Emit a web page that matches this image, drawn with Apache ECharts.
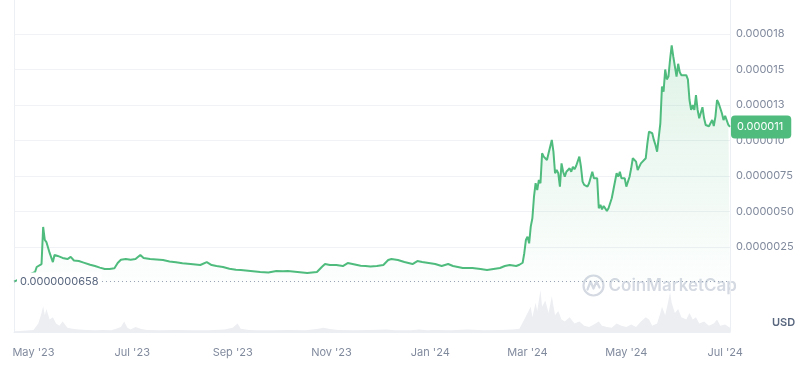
<!DOCTYPE html>
<html><head><meta charset="utf-8">
<script src="https://cdn.jsdelivr.net/npm/echarts@6/dist/echarts.min.js"></script>
<style>html,body{margin:0;padding:0;background:#fff}#chart{width:808px;height:372px}</style>
</head><body><div id="chart"></div>
<script>
// ---- data ----
const startDate = '2023-04-19';
const endDate = '2024-07-04';
// day index counted from startDate, price in millionths of USD
const priceDay = [0,13,14,15,17,18,19,20,22,23,24,25,27,30,33,35,37,40,43,47,50,53,56,59,62,64,66,67,69,72,75,78,80,84,88,92,96,100,104,109,115,119,122,125,129,133,137,140,146,152,157,162,166,169,175,181,187,190,192,195,199,203,206,209,214,217,220,224,228,231,233,237,241,246,249,252,256,260,264,268,271,277,283,288,292,296,300,303,306,310,312,314,315,316,317,318,319,320,321,322,323,324,325,326,327,328,329,330,332,333,334,335,336,337,338,339,340,341,343,344,345,346,347,349,350,351,352,354,355,357,358,359,360,361,362,363,364,366,367,369,370,372,373,374,375,377,378,380,381,382,384,385,387,388,390,391,392,394,395,396,397,398,399,400,401,402,403,404,405,406,407,408,409,410,411,412,413,415,416,417,418,419,420,421,422,423,425,426,427,428,429,430,431,432,433,434,435,437,438,439,441,442];
const priceMicroUSD = [0.0658,0.74,1.09,1.09,1.30,3.91,3.00,2.85,2.08,2.00,1.44,1.94,1.87,1.73,1.65,1.80,1.55,1.51,1.40,1.25,1.16,1.05,0.95,0.95,1.00,1.37,1.60,1.68,1.65,1.60,1.65,1.94,1.73,1.65,1.62,1.58,1.48,1.42,1.35,1.30,1.23,1.44,1.23,1.16,1.09,0.97,0.90,0.88,0.81,0.74,0.70,0.81,0.80,0.81,0.74,0.67,0.74,1.09,1.30,1.23,1.23,1.16,1.37,1.30,1.18,1.16,1.12,1.16,1.23,1.58,1.65,1.58,1.44,1.30,1.51,1.44,1.37,1.30,1.16,1.30,1.16,1.02,1.02,0.95,0.88,0.95,1.02,1.16,1.23,1.16,1.25,1.39,2.06,2.99,3.23,2.76,3.93,4.52,6.04,6.99,6.51,7.22,6.99,9.10,8.86,8.98,8.63,9.10,10.04,9.21,7.69,7.92,7.69,6.75,8.39,7.80,7.45,7.80,8.04,7.80,8.15,7.97,8.20,8.86,8.15,7.10,6.87,6.75,6.99,7.80,7.34,7.27,7.34,5.23,5.46,5.15,5.39,5.04,5.23,5.93,6.51,7.69,7.45,7.80,7.34,7.34,6.75,7.45,8.04,8.75,8.51,7.92,8.39,8.51,8.75,9.80,10.62,10.51,10.04,9.68,9.21,9.10,11.21,13.79,13.44,15.0,14.3,14.5,15.7,16.7,15.9,15.2,14.5,15.4,14.8,14.6,14.5,14.6,14.3,12.85,12.15,12.5,12.15,13.2,12.15,11.56,12.34,11.56,11.09,11.21,11.0,11.02,11.44,11.02,11.68,12.85,12.62,11.92,11.44,11.73,11.09,10.95];
// volume, relative (0-100 = share of the tallest bar)
const volumeDay = [0,6,12,15,17,18,19,20,22,24,26,28,30,33,36,40,45,50,55,60,63,66,68,70,72,75,78,82,90,100,110,120,130,135,138,140,145,150,160,170,180,188,191,195,200,210,220,230,235,245,250,255,260,270,280,290,300,308,312,315,317,319,320,322,323,325,326,328,330,332,334,336,338,340,343,346,349,352,355,358,361,363,366,369,372,375,378,381,384,387,390,392,394,397,399,400,402,404,405,406,408,410,412,415,417,419,421,423,426,429,432,434,436,439,442];
const volumeRel = [2,3,5,20,45,62,40,55,30,35,20,15,25,10,8,6,5,4,5,4,8,12,25,10,6,12,8,5,4,5,4,4,6,10,20,8,5,4,4,5,4,8,10,7,5,4,5,6,4,4,6,4,5,4,6,4,5,6,8,30,45,60,35,70,50,100,60,75,45,85,40,50,30,25,35,20,25,15,12,18,25,15,12,10,20,15,12,18,12,25,35,30,15,20,45,60,40,75,95,70,45,55,35,30,45,30,35,20,25,15,20,30,15,18,10];
const yTickValues = [2.5,5,7.5,10,12.5,15,17.5];
const yTickLabels = ['0.0000025','0.0000050','0.0000075','0.000010','0.000013','0.000015','0.000018'];
const minPriceLabel = '0.0000000658';
const lastPriceLabel = '0.000011';
const currencyLabel = 'USD';
const watermarkText = 'CoinMarketCap';
const monthNames = ['Jan','Feb','Mar','Apr','May','Jun','Jul','Aug','Sep','Oct','Nov','Dec'];

// ---- build ----
const categories = [];
for (let t = Date.parse(startDate + 'T00:00:00Z'); t <= Date.parse(endDate + 'T00:00:00Z'); t += 86400000) {
  categories.push(new Date(t).toISOString().slice(0, 10));
}
const priceData = priceDay.map((d, i) => [categories[d], priceMicroUSD[i]]);
const volumeData = volumeDay.map((d, i) => [categories[d], volumeRel[i]]);
const minVal = priceMicroUSD[0];
const lastVal = priceMicroUSD[priceMicroUSD.length - 1];

const FONT = 'Inter';
const GREEN = '#4fbc7e';
const LINE = '#eceff3';
const chart = echarts.init(document.getElementById('chart'), null, {renderer: 'canvas'});
chart.setOption({
  animation: false,
  grid: [
    {left: 14, right: 78, top: 0, bottom: 89.5},
    {left: 14, right: 78, top: 282.5, bottom: 40}
  ],
  xAxis: [
    {type: 'category', gridIndex: 0, data: categories, boundaryGap: false, show: false},
    {type: 'category', gridIndex: 1, data: categories, boundaryGap: false,
      axisLine: {show: true, lineStyle: {color: LINE}}, axisTick: {show: false},
      axisLabel: {
        margin: 15, color: '#808a9d', fontSize: 11, fontFamily: FONT,
        interval: (idx, v) => v.slice(8) === '01' && (+v.slice(5, 7)) % 2 === 1,
        formatter: v => monthNames[+v.slice(5, 7) - 1] + " '" + v.slice(2, 4)
      }
    }
  ],
  yAxis: [
    {type: 'value', gridIndex: 0, position: 'right', min: 0, max: 19.89, interval: 2.5,
      axisLine: {show: true, lineStyle: {color: LINE}}, axisTick: {show: false},
      axisLabel: {margin: 6, color: '#808a9d', fontSize: 11, fontFamily: FONT,
        formatter: v => { const k = yTickValues.findIndex(t => Math.abs(t - v) < 1e-6); return k < 0 ? '' : yTickLabels[k]; }},
      splitLine: {show: true, showMinLine: false, showMaxLine: false, lineStyle: {color: '#f0f2f5'}}
    },
    {type: 'value', gridIndex: 0, position: 'left', min: 0, max: 19.89,
      axisLine: {show: true, lineStyle: {color: LINE}}, axisTick: {show: false}, axisLabel: {show: false}, splitLine: {show: false}},
    {type: 'value', gridIndex: 1, position: 'left', min: 0, max: 118,
      axisLine: {show: true, lineStyle: {color: LINE}}, axisTick: {show: false}, axisLabel: {show: false}, splitLine: {show: false}},
    {type: 'value', gridIndex: 1, position: 'right', min: 0, max: 118,
      axisLine: {show: true, lineStyle: {color: LINE}}, axisTick: {show: false}, axisLabel: {show: false}, splitLine: {show: false}}
  ],
  graphic: [
    {type: 'group', left: 581, top: 273, z: 0, children: [
      {type: 'circle', shape: {cx: 11, cy: 11, r: 10}, style: {fill: 'none', stroke: '#d4d9e2', lineWidth: 2.2}},
      {type: 'polyline', shape: {points: [[5, 15], [8, 7], [11, 14], [14, 7], [17, 13]]}, style: {fill: 'none', stroke: '#d4d9e2', lineWidth: 2.2, lineJoin: 'round', lineCap: 'round'}},
      {type: 'text', x: 26, y: 11, style: {text: watermarkText, fill: '#d4d9e2', font: '600 17px Inter', verticalAlign: 'middle'}}
    ]},
    {type: 'text', left: 772, top: 317, style: {text: currencyLabel, fill: '#58667e', font: '600 11px Inter'}}
  ],
  series: [
    {type: 'line', name: 'volume', xAxisIndex: 1, yAxisIndex: 2, data: volumeData, showSymbol: false, silent: true,
      lineStyle: {width: 0}, areaStyle: {color: '#eceef2', opacity: 1}, z: 1},
    {type: 'line', name: 'price', xAxisIndex: 0, yAxisIndex: 0, data: priceData, showSymbol: false, silent: true, z: 3,
      lineStyle: {color: GREEN, width: 2},
      areaStyle: {color: new echarts.graphic.LinearGradient(0, 0, 0, 1, [
        {offset: 0, color: 'rgba(79,188,126,0.26)'}, {offset: 1, color: 'rgba(79,188,126,0.02)'}])},
      markLine: {silent: true, symbol: 'none', animation: false, data: [
        {yAxis: minVal, lineStyle: {type: [1, 3], color: '#9aa3b5', width: 1}, label: {show: false}},
        {yAxis: lastVal, lineStyle: {color: 'rgba(0,0,0,0)', width: 1}, label: {show: true, position: 'end', distance: 1, formatter: lastPriceLabel,
          backgroundColor: GREEN, color: '#ffffff', fontSize: 11, fontFamily: FONT, padding: [6, 8, 6, 6], borderRadius: 4}}
      ]},
      markPoint: {silent: true, animation: false, data: [
        {coord: [categories[0], minVal], symbol: 'circle', symbolSize: 0,
          label: {show: true, position: 'right', distance: 3, formatter: minPriceLabel, backgroundColor: '#fff',
            padding: [5, 3, 2, 3], color: '#58667e', fontSize: 11, fontFamily: FONT}}
      ]}
    }
  ]
});
</script></body></html>
